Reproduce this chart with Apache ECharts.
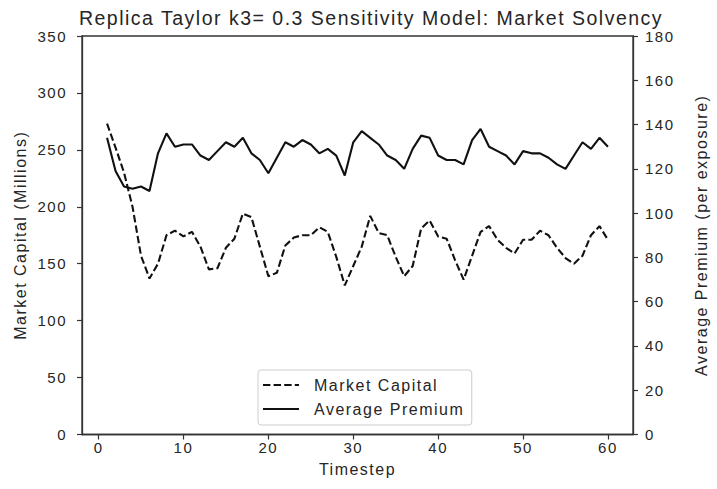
<!DOCTYPE html>
<html>
<head>
<meta charset="utf-8">
<script src="https://cdn.jsdelivr.net/npm/echarts@6/dist/echarts.min.js"></script>
<style>
  html, body { margin: 0; padding: 0; background: #fff; }
  #chart { width: 717px; height: 489px; }
  #chart svg text { letter-spacing: 1.5px; }
</style>
</head>
<body>
<div id="chart"></div>
<script>
const timesteps = [1,2,3,4,5,6,7,8,9,10,11,12,13,14,15,16,17,18,19,20,21,22,23,24,25,26,27,28,29,30,31,32,33,34,35,36,37,38,39,40,41,42,43,44,45,46,47,48,49,50,51,52,53,54,55,56,57,58,59,60];
const marketCapital = [273,252,230,200,157,137,150,175,179,174,178,165,145,146,164,172,194,191,165,139,142,166,173,175,175,182,178,156,131,148,165,192,177,175,156,139,148,181,188,174,172,153,136,157,178,183,171,164,159,171,171,179,175,164,155,150,157,175,183,171];
const averagePremium = [134,119,112,111,112,110,127,136,130,131,131,126,124,128,132,130,134,127,124,118,125,132,130,133,131,127,129,126,117,132,137,134,131,126,124,120,129,135,134,126,124,124,122,133,138,130,128,126,122,128,127,127,125,122,120,126,132,129,134,130];
const xTicks = [0,10,20,30,40,50,60];
const seriesNames = ['Market Capital', 'Average Premium'];

const font = 'Liberation Sans, Arial, Helvetica, sans-serif';
const txt = '#262626';
const axisCol = '#333333';

const chart = echarts.init(document.getElementById('chart'), null, {renderer: 'svg'});
chart.setOption({
  animation: false,
  backgroundColor: '#ffffff',
  textStyle: {fontFamily: font, color: txt},
  title: {
    text: 'Replica Taylor k3= 0.3 Sensitivity Model: Market Solvency',
    left: 366, top: 3, textAlign: 'center',
    textStyle: {fontFamily: font, fontSize: 19.5, fontWeight: 'normal', color: txt}
  },
  grid: {
    left: 82, right: 69, top: 36, bottom: 54.5,
    show: true, borderColor: axisCol, borderWidth: 1.3, backgroundColor: 'transparent'
  },
  legend: {
    orient: 'vertical', left: 258, top: 370,
    data: seriesNames,
    padding: [7, 30, 8, 4],
    itemGap: 8, itemWidth: 36, itemHeight: 16,
    backgroundColor: 'rgba(255,255,255,0.85)',
    borderColor: '#cccccc', borderWidth: 1, borderRadius: 3,
    itemStyle: {opacity: 0},
    textStyle: {fontFamily: font, fontSize: 16, color: txt, padding: [0,0,0,10]}
  },
  xAxis: {
    type: 'value', min: -1.95, max: 62.95,
    name: 'Timestep', nameLocation: 'middle', nameGap: 27,
    nameTextStyle: {fontFamily: font, fontSize: 16, color: txt},
    axisLine: {show: true, onZero: false, lineStyle: {color: axisCol, width: 1.3}},
    axisTick: {show: true, length: 5, lineStyle: {color: axisCol, width: 1.2}, customValues: xTicks},
    axisLabel: {fontFamily: font, fontSize: 15, color: txt, margin: 5, customValues: xTicks},
    splitLine: {show: false}
  },
  yAxis: [
    {
      type: 'value', min: 0, max: 350, interval: 50, position: 'left',
      name: 'Market Capital (Millions)', nameLocation: 'middle', nameGap: 54,
      nameTextStyle: {fontFamily: font, fontSize: 16, color: txt},
      axisLine: {show: true, onZero: false, lineStyle: {color: axisCol, width: 1.3}},
      axisTick: {show: true, length: 5, lineStyle: {color: axisCol, width: 1.2}},
      axisLabel: {fontFamily: font, fontSize: 15, color: txt, margin: 15},
      splitLine: {show: false}
    },
    {
      type: 'value', min: 0, max: 180, interval: 20, position: 'right',
      name: 'Average Premium (per exposure)', nameLocation: 'middle', nameGap: 60,
      nameTextStyle: {fontFamily: font, fontSize: 16, color: txt},
      axisLine: {show: true, onZero: false, lineStyle: {color: axisCol, width: 1.3}},
      axisTick: {show: true, length: 5, lineStyle: {color: axisCol, width: 1.2}},
      axisLabel: {fontFamily: font, fontSize: 15, color: txt, margin: 12},
      splitLine: {show: false}
    }
  ],
  series: [
    {
      name: seriesNames[0], type: 'line', yAxisIndex: 0,
      data: timesteps.map((t, i) => [t, marketCapital[i]]),
      symbol: 'none', showSymbol: false,
      lineStyle: {color: '#111111', width: 2.1, type: [7.4, 3.2]},
      itemStyle: {color: '#111111'}
    },
    {
      name: seriesNames[1], type: 'line', yAxisIndex: 1,
      data: timesteps.map((t, i) => [t, averagePremium[i]]),
      symbol: 'none', showSymbol: false,
      lineStyle: {color: '#111111', width: 2.1, type: 'solid'},
      itemStyle: {color: '#111111'}
    }
  ]
});
</script>
</body>
</html>
